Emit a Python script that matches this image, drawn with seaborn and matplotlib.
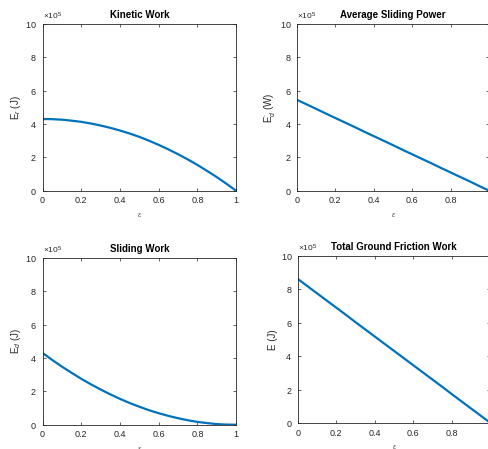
import numpy as np
import pandas as pd
import seaborn as sns
import matplotlib
matplotlib.use("Agg")
import matplotlib.pyplot as plt
from matplotlib.ticker import ScalarFormatter

# values, in units of 1e5
eps = [0.0, 0.05, 0.1, 0.15, 0.2, 0.25, 0.3, 0.35, 0.4, 0.45, 0.5,
       0.55, 0.6, 0.65, 0.7, 0.75, 0.8, 0.85, 0.9, 0.95, 1.0]
kinetic_work = [4.30, 4.29, 4.26, 4.20, 4.13, 4.03, 3.91, 3.77, 3.61, 3.43, 3.23,
                3.00, 2.75, 2.48, 2.19, 1.88, 1.55, 1.19, 0.82, 0.42, 0.0]
sliding_power = [5.45, 5.18, 4.91, 4.63, 4.36, 4.09, 3.82, 3.54, 3.27, 3.00, 2.73,
                 2.45, 2.18, 1.91, 1.64, 1.36, 1.09, 0.82, 0.55, 0.27, 0.0]
sliding_work = [4.30, 3.88, 3.48, 3.11, 2.75, 2.42, 2.11, 1.82, 1.55, 1.30, 1.08,
                0.87, 0.69, 0.53, 0.39, 0.27, 0.17, 0.10, 0.04, 0.01, 0.0]
total_friction = [8.62, 8.19, 7.76, 7.33, 6.90, 6.47, 6.03, 5.60, 5.17, 4.74, 4.31,
                  3.88, 3.45, 3.02, 2.59, 2.16, 1.72, 1.29, 0.86, 0.43, 0.0]

titles = ["Kinetic Work", "Average Sliding Power", "Sliding Work", "Total Ground Friction Work"]
ylabels = [r"E$_r$ (J)", r"E$_d^{\cdot}$ (W)", r"E$_d$ (J)", "E (J)"]
series = [kinetic_work, sliding_power, sliding_work, total_friction]

sns.set_style("ticks")
plt.rcParams['font.family'] = ['Arial', 'Liberation Sans', 'DejaVu Sans']
plt.rcParams['mathtext.fontset'] = 'custom'
plt.rcParams['mathtext.rm'] = 'Liberation Sans'
plt.rcParams['mathtext.it'] = 'Liberation Sans:italic'

grey = "#262626"
fig = plt.figure(figsize=(4.89, 4.49), dpi=100)
rects = [
    [0.087, 0.575, 0.396, 0.372],
    [0.607, 0.575, 0.394, 0.372],
    [0.087, 0.054, 0.396, 0.372],
    [0.609, 0.058, 0.394, 0.372],
]

for rect, title, ylab, vals in zip(rects, titles, ylabels, series):
    ax = fig.add_axes(rect)
    df = pd.DataFrame({"eps": eps, "E": np.array(vals) * 1e5})
    sns.lineplot(data=df, x="eps", y="E", ax=ax, color="#0072BD", linewidth=1.6)
    ax.set_xlim(0, 1)
    ax.set_ylim(0, 1e6)
    ax.set_xticks([0, 0.2, 0.4, 0.6, 0.8, 1])
    ax.set_xticklabels(["0", "0.2", "0.4", "0.6", "0.8", "1"])
    ax.set_yticks(np.arange(0, 1.01e6, 2e5))
    fmt = ScalarFormatter(useMathText=True)
    fmt.set_powerlimits((5, 5))
    ax.yaxis.set_major_formatter(fmt)
    ax.yaxis.get_offset_text().set_fontsize(6)
    ax.yaxis.get_offset_text().set_color("#555555")
    ax.tick_params(direction="in", length=2.5, width=0.5, labelsize=6.5,
                   colors=grey, top=True, right=True, pad=4)
    for s in ax.spines.values():
        s.set_linewidth(0.6)
        s.set_color(grey)
    ax.set_title(title, fontsize=7, fontweight="bold", color="black", pad=4)
    ax.set_ylabel(ylab, fontsize=7, color=grey, labelpad=2)
    ax.set_xlabel(r"$\epsilon$", fontsize=5, color="#555555", labelpad=4)

fig.savefig("out.png", dpi=100)
